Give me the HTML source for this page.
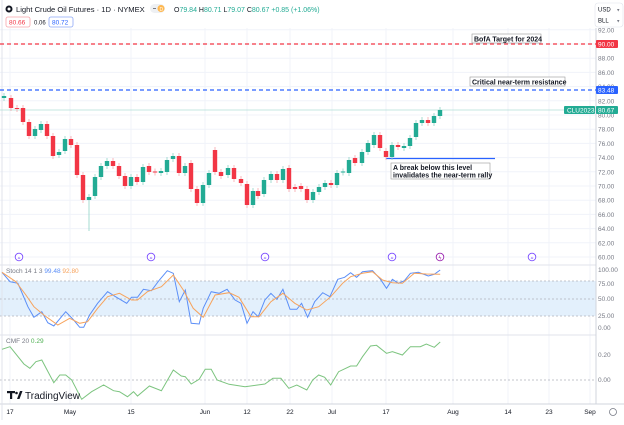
<!DOCTYPE html>
<html><head><meta charset="utf-8"><style>
body{margin:0;background:#fff;width:624px;height:420px;overflow:hidden;font-family:"Liberation Sans",sans-serif}
svg text{font-family:"Liberation Sans",sans-serif}
</style></head><body>
<svg id="s" width="624" height="420" viewBox="0 0 624 420" xmlns="http://www.w3.org/2000/svg">
<rect x="0" y="0" width="624" height="420" fill="#fff"/>
<g id="grid" stroke="#f0f3fa" stroke-width="1"></g>
<rect x="0" y="281" width="596" height="35" fill="#e3f0fc"/>
<g stroke="#b0b3bb" stroke-dasharray="2,2" stroke-width="0.8">
<line x1="0" y1="281" x2="596" y2="281"/><line x1="0" y1="299" x2="596" y2="299"/><line x1="0" y1="316" x2="596" y2="316"/>
<line x1="0" y1="380" x2="596" y2="380"/>
</g>
<line x1="0" y1="265" x2="596" y2="265" stroke="#e0e3eb"/>
<line x1="0" y1="335" x2="596" y2="335" stroke="#e0e3eb"/>
<line x1="0" y1="404" x2="624" y2="404" stroke="#d1d4dc"/>
<line x1="596" y1="28" x2="596" y2="404" stroke="#d1d4dc"/>
<line x1="2" y1="0" x2="2" y2="420" stroke="#e0e3eb"/>
<line x1="0" y1="44" x2="596" y2="44" stroke="#f23645" stroke-dasharray="4,3" stroke-width="1.2"/>
<line x1="0" y1="90" x2="596" y2="90" stroke="#2962ff" stroke-dasharray="4,3" stroke-width="1.2"/>
<line x1="0" y1="110" x2="596" y2="110" stroke="#b2dfd6" stroke-width="0.8"/>
<line x1="386" y1="158.5" x2="495" y2="158.5" stroke="#2962ff" stroke-width="1.2"/>
<g id="candles"></g>
<g id="ind" fill="none" stroke-width="1"></g>
<rect x="472" y="34" width="69" height="9" fill="#fff" stroke="#999" stroke-width="0.6"/>
<text x="474" y="41.5" font-size="7" font-weight="bold" fill="#131722">BofA Target for 2024</text>
<rect x="470" y="77" width="95" height="9" fill="#fff" stroke="#999" stroke-width="0.6"/>
<text x="472" y="84.5" font-size="7" font-weight="bold" fill="#131722">Critical near-term resistance</text>
<rect x="391" y="163" width="99" height="16" fill="#fff" stroke="#999" stroke-width="0.6"/>
<text x="393" y="170" font-size="7" font-weight="bold" fill="#131722">A break below this level</text>
<text x="393" y="177.5" font-size="7" font-weight="bold" fill="#131722">invalidates the near-term rally</text>
<g id="axis" font-size="6.5" fill="#787b86"></g>
<rect x="596" y="40" width="22" height="8" rx="1" fill="#f23645"/><text x="598" y="46.5" font-size="6.5" fill="#fff">90.00</text>
<rect x="596" y="86" width="22" height="8" rx="1" fill="#2962ff"/><text x="598" y="92.5" font-size="6.5" fill="#fff">83.48</text>
<rect x="564" y="106" width="31" height="8" rx="1" fill="#22ab94"/><text x="567" y="112.5" font-size="6.5" fill="#fff">CLU2023</text>
<rect x="596" y="106" width="22" height="8" rx="1" fill="#22ab94"/><text x="598" y="112.5" font-size="6.5" fill="#fff">80.67</text>
<rect x="595" y="3" width="28" height="24" rx="3" fill="#fff" stroke="#e0e3eb" stroke-width="0.6"/>
<text x="598" y="11.5" font-size="6" fill="#131722">USD</text><text x="617" y="11.5" font-size="5" fill="#787b86">▾</text>
<text x="598" y="22.5" font-size="6" fill="#131722">BLL</text><text x="617" y="22.5" font-size="5" fill="#787b86">▾</text>
<circle cx="9" cy="9" r="3.5" fill="#131722"/><circle cx="9" cy="9" r="1.5" fill="#fff"/>
<text x="16" y="12" font-size="7.6" fill="#131722">Light Crude Oil Futures · 1D · NYMEX</text>
<rect x="150" y="4" width="15" height="9" rx="4.5" fill="#eef0f3"/><circle cx="161" cy="8.5" r="3.5" fill="#ffb74d"/>
<text x="159.5" y="11" font-size="5" fill="#fff">D</text><line x1="153" y1="8.5" x2="156" y2="8.5" stroke="#787b86"/>
<text x="174" y="12" font-size="7" fill="#22ab94"><tspan fill="#131722">O</tspan>79.84 <tspan fill="#131722">H</tspan>80.71 <tspan fill="#131722">L</tspan>79.07 <tspan fill="#131722">C</tspan>80.67 +0.85 (+1.06%)</text>
<rect x="6" y="17" width="24" height="10" rx="2" fill="#fff" stroke="#f7a5ab" stroke-width="0.8"/><text x="9" y="24.5" font-size="6.5" fill="#f23645">80.66</text>
<text x="34" y="24.5" font-size="6" fill="#131722">0.06</text>
<rect x="49" y="17" width="24" height="10" rx="2" fill="#fff" stroke="#8fa9f7" stroke-width="0.8"/><text x="52" y="24.5" font-size="6.5" fill="#2962ff">80.72</text>
<text x="6" y="273" font-size="6.5" fill="#787b86">Stoch 14 1 3 <tspan fill="#5b8ef7">99.48</tspan> <tspan fill="#f7a35c">92.80</tspan></text>
<text x="6" y="343" font-size="6.5" fill="#787b86">CMF 20 <tspan fill="#4caf50">0.29</tspan></text>
<rect x="7" y="391" width="8" height="2.2" fill="#131722"/><rect x="10" y="391" width="2.2" height="8" fill="#131722"/><circle cx="16.5" cy="393" r="1.3" fill="#131722"/><path d="M17 399 L20 391 L22.5 391 L19.5 399Z" fill="#131722"/>
<text x="25" y="399" font-size="10" fill="#131722">TradingView</text>
<g id="events"></g>
<circle cx="613" cy="412" r="3.5" fill="none" stroke="#787b86" stroke-width="0.8"/>
</svg>
<script>
const NS="http://www.w3.org/2000/svg";
function el(p,t,a,txt){const e=document.createElementNS(NS,t);for(const k in a)e.setAttribute(k,a[k]);if(txt!==undefined)e.textContent=txt;document.getElementById(p).appendChild(e);return e;}
const tx=[10,70,131,205,247,290,332,386,453,508,549,590];
tx.forEach(x=>el('grid','line',{x1:x,y1:28,x2:x,y2:404}));
for(let p=92;p>=60;p-=2){const y=44+(90-p)*7.1;el('grid','line',{x1:0,y1:y,x2:596,y2:y});
 if(p!=90)el('axis','text',{x:598,y:y+2.5},p.toFixed(2));}
[[100,272],[75,286],[50,301],[25,318],[0,330]].forEach(a=>el('axis','text',{x:598,y:a[1]},a[0].toFixed(2)));
el('axis','text',{x:598,y:357},'0.20');el('axis','text',{x:598,y:382},'0.00');
const tl=['17','May','15','Jun','12','22','Jul','17','Aug','14','23','Sep'];
tl.forEach((t,i)=>el('axis','text',{x:tx[i],y:414,'text-anchor':'middle','font-size':6.5,fill:'#131722'},t));
const C=[[4,96,98,1],[11,98,108,0],[17,108,109,0],[23,108,122,0],[29,122,136,0],[35,129,136,1],[41,124,130,1],[47,124,136,0],[53,136,156,0],[59,152,155,1],[65,139,151,1],[71,139,145,0],[77,145,175,0],[83,175,200,0],[89,197,200,1],[95,177,196,1],[101,166,177,1],[107,161,166,1],[113,161,166,0],[119,166,176,0],[125,176,186,0],[131,177,186,1],[137,177,182,0],[143,167,182,1],[149,166,172,0],[155,171.5,172.5,0],[161,171,173,1],[167,160,172,1],[173,156,159,1],[179,156,173,0],[185,166,173,1],[191,163,189,0],[197,189,203,0],[203,185,203,1],[209,173,185,1],[215,150,172,0],[221,172,176,0],[228,168,175,1],[234,168,179,0],[241,179,183,0],[247,184,205,0],[253,191,205,1],[258,191,196,0],[264,180,194,1],[271,174,180,1],[277,174,180,0],[283,169,180,1],[289,168,189,0],[295,187,189,0],[301,186,189,0],[307,189,200,0],[313,192,200,1],[319,187,192,1],[325,183,187,1],[331,183,185,0],[337,173,185,1],[343,171.5,172.5,1],[349,160,173,1],[355,158,163,0],[362,152,163,1],[368,143,152,1],[374,135,145,1],[380,135,148,0],[386,151,157,0],[392,145,157,1],[398,145,147,0],[404,146,148,1],[410,138,146,1],[416,123,137,1],[422,120,123,1],[428,120,123,0],[434,116,123,1],[440,110,116,1]];
C.forEach(c=>{const col=c[3]?'#22ab94':'#f23645';const wc=c[3]?'#8fd3c6':'#f7a5ab';
 let wt=c[1]-3,wb=c[2]+3;if(c[0]==89)wb=231;
 el('candles','line',{x1:c[0],y1:wt,x2:c[0],y2:wb,stroke:wc,'stroke-width':0.8});
 el('candles','rect',{x:c[0]-2.2,y:c[1],width:4.4,height:Math.max(1,c[2]-c[1]),fill:col});});
function line(pts,col){const d=pts.map((p,i)=>(i?'L':'M')+(p[0]/2.51).toFixed(1)+' '+(240+p[1]/3).toFixed(1)).join(' ');el('ind','path',{d:d,stroke:col});}
line([[5,97],[25,125],[45,130],[70,200],[85,232],[105,215],[120,248],[135,258],[165,215],[185,240],[200,262],[210,262],[225,225],[245,190],[270,155],[290,170],[318,190],[330,172],[345,172],[360,148],[380,152],[400,120],[420,92],[435,100],[450,185],[465,150],[480,250],[500,252],[510,205],[530,155],[550,160],[570,148],[590,180],[605,190],[620,250],[635,215],[648,230],[665,180],[680,160],[695,178],[710,148],[728,208],[745,208],[757,190],[772,232],[790,185],[810,158],[828,170],[848,118],[865,112],[880,98],[895,112],[910,95],[935,92],[955,118],[970,145],[985,118],[1000,130],[1015,122],[1030,100],[1050,97],[1075,108],[1090,103],[1105,90]],'#5b8ef7');
line([[5,97],[40,125],[65,165],[85,200],[110,225],[145,255],[175,235],[200,250],[220,245],[245,205],[270,170],[300,160],[330,180],[345,180],[370,155],[405,140],[435,105],[460,150],[485,205],[510,232],[540,165],[575,158],[600,172],[630,230],[650,230],[680,185],[710,160],[740,190],[770,210],[800,200],[830,170],[860,130],[880,110],[910,100],[935,95],[960,120],[985,128],[1010,130],[1040,100],[1070,102],[1105,103]],'#f7a35c');
line([[5,328],[25,320],[60,372],[75,385],[90,365],[105,360],[135,428],[150,405],[165,405],[180,420],[205,478],[230,455],[260,435],[285,452],[300,455],[320,470],[335,455],[345,468],[375,438],[405,452],[435,390],[455,408],[465,410],[480,432],[500,418],[515,388],[530,388],[545,420],[575,433],[615,440],[665,432],[685,415],[705,415],[725,445],[745,435],[770,450],[785,420],[800,405],[815,412],[830,435],[850,395],[880,378],[895,378],[910,350],[930,318],[945,316],[970,340],[985,335],[1010,345],[1030,320],[1055,320],[1070,312],[1090,322],[1105,306]],'#7cc47f');
[19,151,265,392,440,532].forEach(x=>{el('events','circle',{cx:x,cy:257,r:3.8,fill:'#fff',stroke:x==440?'#9c27b0':'#7b4dff','stroke-width':0.9});
 el('events','text',{x:x,y:259.3,'text-anchor':'middle','font-size':5.5,fill:x==440?'#9c27b0':'#7b4dff'},x==440?'ϟ':'»');});
</script>
</body></html>
